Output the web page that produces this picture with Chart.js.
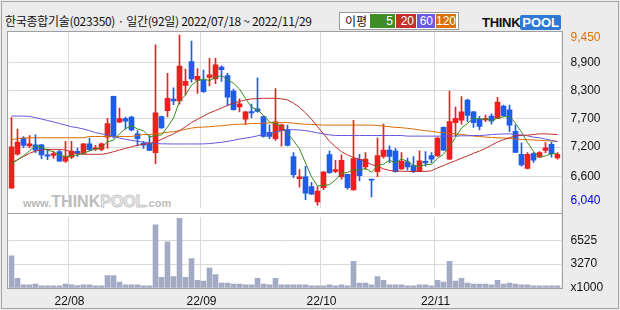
<!DOCTYPE html>
<html>
<head>
<meta charset="utf-8">
<script src="https://cdn.jsdelivr.net/npm/chart.js@4.4.0/dist/chart.umd.min.js"></script>
<style>
  body { margin: 0; width: 620px; height: 310px; background: #ececec; overflow: hidden; font-family: "Liberation Sans", Arial, sans-serif; }
  .abs { position: absolute; }
  #outer { left: 1px; top: 1px; width: 616px; height: 306px; border: 1px solid #a4a4a4; }
  #plotBg { left: 7px; top: 31px; width: 554px; height: 256px; background: #fff; }
  #frame { left: 7px; top: 31px; width: 554px; height: 256px; border: 1px solid #a0a0a0; pointer-events: none; }
  #sep { left: 8px; top: 213px; width: 554px; height: 1px; background: #a0a0a0; }
  #title { left: 5px; top: 12px; font: 12px "Noto Sans CJK KR", sans-serif; letter-spacing: -0.3px; color: #111; white-space: nowrap; }
  #legend { left: 339px; top: 12px; width: 118px; height: 16px; border: 1px solid #9a9a9a; background: #fff; }
  #legend span { position: absolute; top: 1px; height: 14px; line-height: 14px; font-size: 12px; color: #fff; text-align: right; padding-right: 2px; box-sizing: border-box; }
  #logo { left: 482px; top: 13px; height: 16px; white-space: nowrap; }
  #wm { left: 23px; top: 193px; white-space: nowrap; font-family: "Liberation Sans", Arial, sans-serif; font-weight: bold; }
  canvas { position: absolute; left: 0; }
</style>
</head>
<body>
<div id="outer" class="abs"></div>
<div id="plotBg" class="abs"></div>
<div id="wm" class="abs">
  <span style="font-size:11px;color:#b8b8b8;">www.</span><span style="font-size:16px;color:#bcbcbc;">THINK</span><span style="font-size:16px;color:#efefef;-webkit-text-stroke:1px #c8c8c8;">POOL</span><span style="font-size:11px;color:#bcbcbc;">.com</span>
</div>
<div id="title" class="abs">한국종합기술(023350) · 일간(92일) 2022/07/18 ~ 2022/11/29</div>
<div id="legend" class="abs">
  <span style="left:5px;color:#111;text-align:left;font-family:'Noto Sans CJK KR';">이평</span>
  <span style="left:30px;width:25px;background:#3e8e27;">5</span>
  <span style="left:56px;width:20px;background:#c4302b;">20</span>
  <span style="left:77px;width:18px;background:#6a5adf;">60</span>
  <span style="left:96px;width:20px;background:#d9700c;">120</span>
</div>
<div id="logo" class="abs">
  <span style="font:bold 13px 'Liberation Sans';color:#111;letter-spacing:-0.3px;">THINK</span><span style="display:inline-block;font:bold 13px 'Liberation Sans';color:#fff;background:#2f78d6;padding:0 2px;border-radius:2px;">POOL</span>
</div>
<canvas id="price" width="620" height="225" style="top:0"></canvas>
<canvas id="volume" width="620" height="110" style="top:200px"></canvas>
<div id="sep" class="abs"></div>
<div id="frame" class="abs"></div>

<script>
// trading days per month (2022)
const tradingDays = [
    ['07', [18, 19, 20, 21, 22, 25, 26, 27, 28, 29]],
    ['08', [1, 2, 3, 4, 5, 8, 9, 10, 11, 12, 16, 17, 18, 19, 22, 23, 24, 25, 26, 29, 30, 31]],
    ['09', [1, 2, 5, 6, 7, 8, 13, 14, 15, 16, 19, 20, 21, 22, 23, 26, 27, 28, 29, 30]],
    ['10', [4, 5, 6, 7, 11, 12, 13, 14, 17, 18, 19, 20, 21, 24, 25, 26, 27, 28, 31]],
    ['11', [1, 2, 3, 4, 7, 8, 9, 10, 11, 14, 15, 16, 17, 18, 21, 22, 23, 24, 25, 28, 29]]
];

const opens = [6377, 7059, 7385, 7229, 7248, 7248, 7047, 7034, 7111, 6923, 7001, 7118, 7079, 7268, 7164, 7157, 7404, 8223, 7703, 7774,
    7807, 7469, 7281, 7268, 7092, 7814, 7937, 8165, 8132, 8444, 8919, 8548, 8542, 8600, 8574, 8808, 8639, 8327, 8009, 7762,
    7918, 7970, 7814, 7502, 7371, 7534, 7553, 7014, 6572, 6605, 6410, 6104, 6390, 7053, 6715, 6611, 6657, 6345, 6956, 6806,
    6553, 6708, 7014, 7144, 7124, 6767, 6910, 6832, 6721, 6917, 7034, 7027, 7599, 6962, 7696, 7742, 8145, 7911, 7762, 7749,
    7826, 7781, 8028, 7950, 7521, 7059, 6773, 7073, 7001, 7138, 7261, 6988];
const highs = [7794, 7567, 7417, 7437, 7450, 7261, 7164, 7125, 7144, 7320, 7320, 7183, 7274, 7385, 7241, 7290, 7781, 8230, 7989, 7807,
    7826, 7534, 7320, 7437, 9257, 7826, 8684, 8392, 9450, 8769, 9334, 8782, 8750, 8984, 8984, 8834, 8684, 8366, 8171, 7924,
    8067, 8593, 7826, 7651, 8379, 7664, 7645, 7092, 6754, 6819, 6494, 6410, 6715, 7131, 6936, 7047, 6657, 7742, 7059, 7092,
    6553, 7385, 7664, 7229, 7177, 7092, 6982, 7014, 7131, 7111, 7092, 7404, 7612, 8327, 8009, 8217, 8165, 7924, 7820, 7846,
    7872, 8204, 8048, 8048, 7651, 7287, 7092, 7092, 7111, 7293, 7306, 7092];
const lows = [6377, 7040, 7190, 7190, 7092, 6969, 6949, 6975, 6917, 6897, 6969, 7014, 7073, 7125, 7138, 7130, 7177, 7385, 7696, 7566,
    7528, 7229, 7177, 7131, 6871, 7579, 7807, 8054, 8067, 8249, 8509, 8282, 8301, 8431, 8476, 8522, 8035, 7944, 7911, 7664,
    7794, 7905, 7404, 7371, 7339, 7222, 7229, 6591, 6397, 6150, 6254, 6040, 6351, 6676, 6689, 6559, 6358, 6338, 6526, 6754,
    6201, 6611, 6982, 6884, 6702, 6754, 6741, 6689, 6708, 6819, 6884, 7014, 7131, 6949, 7430, 7664, 7716, 7599, 7547, 7716,
    7664, 7781, 7820, 7515, 7092, 6819, 6767, 6897, 6995, 7092, 7001, 6962];
const closes = [7209, 7306, 7235, 7268, 7144, 7047, 7021, 7073, 6923, 7014, 7125, 7079, 7268, 7151, 7190, 7268, 7677, 7430, 7774, 7723,
    7547, 7371, 7242, 7138, 7891, 7586, 8184, 8132, 8828, 8522, 8574, 8626, 8314, 8652, 8854, 8756, 8204, 7957, 8074, 7911,
    7891, 7918, 7417, 7417, 7710, 7651, 7235, 6650, 6605, 6280, 6260, 6319, 6702, 6689, 6754, 6936, 6390, 6975, 6631, 6962,
    6540, 7034, 7144, 7014, 6708, 6917, 6806, 6715, 6930, 6884, 6962, 7385, 7144, 7716, 7781, 7911, 7840, 7696, 7619, 7781,
    7723, 8106, 7833, 7645, 7098, 6845, 7059, 6943, 7092, 7190, 7073, 7059];

// moving averages
const ma5 = [6870, 6950, 7030, 7130, 7232, 7200, 7143, 7111, 7042, 7016, 7031, 7043, 7082, 7127, 7163, 7191, 7311, 7343, 7468, 7574,
    7630, 7569, 7531, 7404, 7438, 7446, 7608, 7786, 8124, 8250, 8448, 8536, 8573, 8538, 8604, 8640, 8556, 8485, 8369, 8180,
    8007, 7950, 7842, 7711, 7671, 7623, 7486, 7333, 7170, 6884, 6606, 6423, 6433, 6450, 6545, 6680, 6694, 6749, 6737, 6779,
    6700, 6828, 6862, 6939, 6888, 6963, 6918, 6832, 6815, 6850, 6859, 6975, 7061, 7218, 7398, 7587, 7678, 7789, 7769, 7769,
    7732, 7785, 7812, 7818, 7681, 7505, 7296, 7118, 7007, 7026, 7071, 7071];
const ma20 = [6884, 6949, 7014, 7079, 7124, 7144, 7157, 7157, 7157, 7144, 7105, 7066, 7059, 7059, 7059, 7059, 7079, 7111, 7144, 7177,
    7209, 7242, 7261, 7274, 7306, 7358, 7417, 7469, 7534, 7612, 7696, 7762, 7826, 7890, 7937, 7989, 8041, 8087, 8119, 8151,
    8171, 8177, 8184, 8184, 8184, 8171, 8151, 8087, 8002, 7891, 7762, 7612, 7469, 7319, 7209, 7111, 7046, 6994, 6962, 6917,
    6852, 6819, 6767, 6735, 6721, 6721, 6715, 6715, 6715, 6715, 6728, 6786, 6832, 6884, 6930, 6982, 7027, 7079, 7124, 7177,
    7242, 7306, 7352, 7391, 7430, 7436, 7443, 7456, 7469, 7469, 7462, 7456];
const ma60 = [7826, 7826, 7826, 7820, 7794, 7768, 7736, 7710, 7677, 7645, 7612, 7593, 7567, 7534, 7495, 7469, 7449, 7417, 7385, 7358,
    7339, 7319, 7306, 7287, 7274, 7270, 7268, 7266, 7266, 7266, 7266, 7266, 7268, 7274, 7287, 7300, 7319, 7339, 7365, 7385,
    7404, 7430, 7456, 7482, 7502, 7534, 7553, 7553, 7547, 7534, 7515, 7488, 7469, 7449, 7436, 7436, 7436, 7436, 7436, 7436,
    7436, 7436, 7436, 7436, 7436, 7436, 7424, 7424, 7424, 7424, 7424, 7424, 7424, 7424, 7424, 7430, 7430, 7436, 7436, 7443,
    7456, 7462, 7469, 7469, 7456, 7449, 7430, 7404, 7391, 7365, 7339, 7313];
const ma120 = [7352, 7371, 7385, 7391, 7391, 7391, 7391, 7391, 7391, 7391, 7391, 7391, 7391, 7417, 7417, 7417, 7417, 7417, 7417, 7417,
    7417, 7436, 7456, 7456, 7469, 7482, 7502, 7515, 7534, 7560, 7586, 7599, 7606, 7612, 7625, 7632, 7645, 7658, 7664, 7664,
    7677, 7677, 7684, 7690, 7696, 7696, 7696, 7684, 7671, 7664, 7658, 7651, 7645, 7645, 7645, 7645, 7645, 7645, 7645, 7645,
    7645, 7638, 7625, 7612, 7599, 7593, 7580, 7567, 7547, 7534, 7521, 7502, 7495, 7482, 7469, 7456, 7443, 7424, 7417, 7404,
    7397, 7391, 7385, 7378, 7365, 7358, 7352, 7346, 7339, 7332, 7326, 7319];

// volume, x1000 shares
const volumes = [4408, 1327, 428, 428, 552, 295, 295, 295, 295, 552, 428, 338, 428, 428, 295, 295, 1708, 1708, 809, 428,
    428, 428, 295, 295, 8641, 1451, 6326, 1579, 9541, 1451, 4019, 1066, 937, 2735, 1836, 680, 680, 552, 552, 428,
    428, 1327, 552, 428, 1327, 428, 428, 428, 428, 428, 295, 295, 295, 428, 295, 428, 295, 3634, 680, 680,
    428, 1579, 1066, 428, 428, 428, 295, 295, 428, 428, 295, 1066, 809, 3634, 937, 1327, 680, 552, 552, 552,
    428, 1066, 552, 680, 552, 428, 428, 295, 295, 295, 295, 295];

// axis ticks
const priceTicks = [6121, 6618.5, 7203.5, 7769, 8334.5, 8900, 9407];
const priceTickLabels = ['6,040', '6,600', '7,200', '7,700', '8,300', '8,900', '9,450'];
const volumeTicks = [0, 3263, 6525];
const volumeTickLabels = ['x1000', '3270', '6525'];

const RED = '#f01e1e';
const BLUE = '#1f5de6';
const GRID = '#d9d9d9';
const tickFont = { family: 'Liberation Sans', size: 12 };

// build category labels
const labels = [];
tradingDays.forEach(([m, days]) => {
    days.forEach(d => labels.push('22/' + m + '/' + String(d).padStart(2, '0')));
});

function isMonthStart(i) {
    return i > 0 && i < labels.length && labels[i].slice(3, 5) !== labels[i - 1].slice(3, 5);
}
function monthGrid(ctx) {
    return isMonthStart(ctx.index) ? GRID : 'rgba(0,0,0,0)';
}

const candleColors = closes.map((c, i) => c >= opens[i] ? RED : BLUE);
const wicks = lows.map((l, i) => [l, highs[i]]);
const bodies = opens.map((o, i) => [o, closes[i]]);

function maLine(data, color) {
    return { type: 'line', data: data, borderColor: color, borderWidth: 1, pointRadius: 0, tension: 0, order: 0 };
}

new Chart(document.getElementById('price'), {
    data: {
        labels: labels,
        datasets: [
            maLine(ma5, '#3b8c1c'),
            maLine(ma20, '#bf2d2a'),
            maLine(ma60, '#6655dd'),
            maLine(ma120, '#d86a00'),
            { type: 'bar', data: bodies, backgroundColor: candleColors, barThickness: 5, minBarLength: 1, grouped: false, order: 1 },
            { type: 'bar', data: wicks, backgroundColor: candleColors, barThickness: 1, minBarLength: 1, grouped: false, order: 2 }
        ]
    },
    options: {
        responsive: false,
        animation: false,
        events: [],
        layout: { padding: { left: 8.5, top: 32, right: 0, bottom: 12 } },
        plugins: { legend: { display: false }, tooltip: { enabled: false } },
        scales: {
            x: {
                offset: true,
                grid: { offset: true, color: monthGrid, drawTicks: false },
                border: { display: false },
                ticks: { display: false }
            },
            y: {
                position: 'right',
                min: 5984.75,
                max: 9514.25,
                afterBuildTicks: s => { s.ticks = priceTicks.map(v => ({ value: v })); },
                afterFit: s => { s.width = 59.5; },
                grid: {
                    drawTicks: false,
                    color: ctx => (ctx.index === 0 || ctx.index === priceTicks.length - 1) ? 'rgba(0,0,0,0)' : GRID
                },
                border: { display: false },
                ticks: {
                    padding: 10,
                    font: tickFont,
                    color: ctx => ctx.index === priceTicks.length - 1 ? '#e07000' : (ctx.index === 0 ? '#0000e6' : '#111'),
                    callback: (v, i) => priceTickLabels[i]
                }
            }
        }
    }
});

new Chart(document.getElementById('volume'), {
    type: 'bar',
    data: {
        labels: labels,
        datasets: [{ data: volumes, backgroundColor: '#a3abc4', barThickness: 5 }]
    },
    options: {
        responsive: false,
        animation: false,
        events: [],
        layout: { padding: { left: 8.5, top: 13, right: 0, bottom: 0 } },
        plugins: { legend: { display: false }, tooltip: { enabled: false } },
        scales: {
            x: {
                offset: true,
                grid: { offset: true, color: monthGrid, drawTicks: false },
                border: { display: false },
                afterFit: s => { s.height = 22; },
                ticks: {
                    autoSkip: false,
                    maxRotation: 0,
                    padding: 6,
                    labelOffset: -2,
                    font: tickFont,
                    color: '#111',
                    callback: (v, i) => isMonthStart(i) ? labels[i].slice(0, 5) : ''
                }
            },
            y: {
                position: 'right',
                min: 0,
                max: 9690,
                afterBuildTicks: s => { s.ticks = volumeTicks.map(v => ({ value: v })); },
                afterFit: s => { s.width = 59.5; },
                grid: { drawTicks: false, color: ctx => ctx.index === 0 ? 'rgba(0,0,0,0)' : GRID },
                border: { display: false },
                ticks: {
                    padding: 10,
                    font: tickFont,
                    color: '#111',
                    callback: (v, i) => volumeTickLabels[i]
                }
            }
        }
    }
});
</script>
</body>
</html>
